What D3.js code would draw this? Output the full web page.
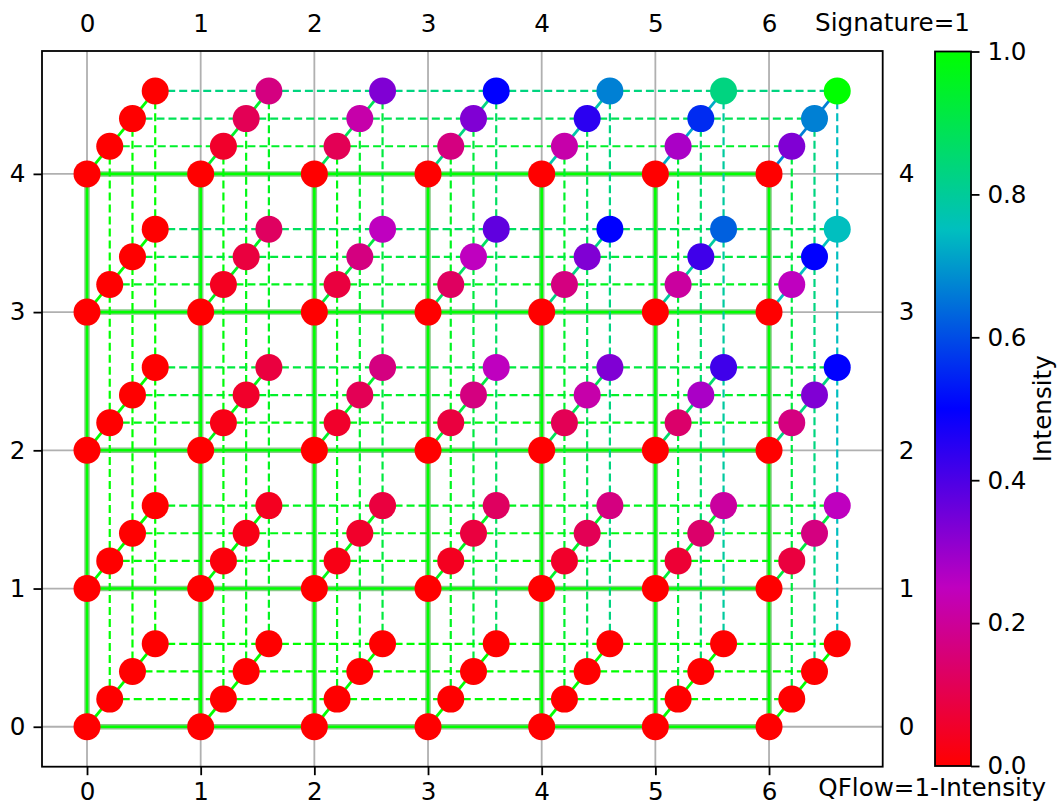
<!DOCTYPE html>
<html>
<head>
<meta charset="utf-8">
<script src="https://cdn.jsdelivr.net/npm/d3@7"></script>
<style>
  body { margin: 0; background: #fff; }
  svg { display: block; font-family: "DejaVu Sans", sans-serif; }
</style>
</head>
<body>
<svg id="chart" width="1062" height="809"></svg>
<script>
// ---- Data ----
const xTicks = [0, 1, 2, 3, 4, 5, 6];
const yTicks = [0, 1, 2, 3, 4];
const levelOffsets = [0, 0.2, 0.4, 0.6];           // diagonal offset of each level
const colorbarTicks = [0.0, 0.2, 0.4, 0.6, 0.8, 1.0];
const xLabelTop = "Signature=1";
const xLabelBottom = "QFlow=1-Intensity";
const colorbarLabel = "Intensity";

// Intensity per level: rows are y = 0..4, columns are x = 0..6
const intensityL0 = [
  [0, 0, 0, 0, 0, 0, 0],
  [0, 0, 0, 0, 0, 0, 0],
  [0, 0, 0, 0, 0, 0, 0],
  [0, 0, 0, 0, 0, 0, 0],
  [0, 0, 0, 0, 0, 0, 0]
];
const intensityL1 = [
  [0, 0,     0,     0,     0,     0,     0],
  [0, 0.014, 0.028, 0.042, 0.056, 0.069, 0.083],
  [0, 0.028, 0.056, 0.083, 0.111, 0.139, 0.167],
  [0, 0.042, 0.083, 0.125, 0.167, 0.208, 0.250],
  [0, 0.056, 0.111, 0.167, 0.222, 0.278, 0.333]
];
const intensityL2 = [
  [0, 0,     0,     0,     0,     0,     0],
  [0, 0.028, 0.056, 0.083, 0.111, 0.139, 0.167],
  [0, 0.056, 0.111, 0.167, 0.222, 0.278, 0.333],
  [0, 0.083, 0.167, 0.250, 0.333, 0.417, 0.500],
  [0, 0.111, 0.222, 0.333, 0.444, 0.556, 0.667]
];
const intensityL3 = [
  [0, 0,     0,     0,     0,     0,     0],
  [0, 0.042, 0.083, 0.125, 0.167, 0.208, 0.250],
  [0, 0.083, 0.167, 0.250, 0.333, 0.417, 0.500],
  [0, 0.125, 0.250, 0.375, 0.500, 0.625, 0.750],
  [0, 0.167, 0.333, 0.500, 0.667, 0.833, 1.000]
];
const intensityLevels = [intensityL0, intensityL1, intensityL2, intensityL3];

// Colormap stops
const cmapStops = [0, 0.25, 0.5, 0.75, 1];
const cmapColors = ["#ff0000", "#bf00bf", "#0000ff", "#00bfbf", "#00ff00"];

// ---- Layout ----
const FS = 24.6;
const TICK = 8.5;
const LW = 1.8;
const svg = d3.select("#chart");
const plot = { left: 42, right: 882.7, top: 51, bottom: 766.7 };
const x = d3.scaleLinear().domain([-0.396, 7.0]).range([plot.left, plot.right]);
const y = d3.scaleLinear().domain([-0.289, 4.889]).range([plot.bottom, plot.top]);
const cmap = d3.scaleLinear().domain(cmapStops).range(cmapColors)
  .interpolate(d3.interpolateRgb).clamp(true);
const flowColor = (a, b) => cmap(1 - Math.abs(a - b));

// clip
svg.append("defs").append("clipPath").attr("id", "clip")
  .append("rect").attr("x", plot.left).attr("y", plot.top)
  .attr("width", plot.right - plot.left).attr("height", plot.bottom - plot.top);

const g = svg.append("g").attr("clip-path", "url(#clip)");

// grid
g.append("g").selectAll("line").data(xTicks).join("line")
  .attr("x1", d => x(d)).attr("x2", d => x(d))
  .attr("y1", plot.top).attr("y2", plot.bottom)
  .attr("stroke", "#b0b0b0").attr("stroke-width", LW);
g.append("g").selectAll("line").data(yTicks).join("line")
  .attr("y1", d => y(d)).attr("y2", d => y(d))
  .attr("x1", plot.left).attr("x2", plot.right)
  .attr("stroke", "#b0b0b0").attr("stroke-width", LW);

// build segments
const thickSegs = [], dashSegs = [], diagSegs = [];
intensityLevels.forEach((lvl, k) => {
  const off = levelOffsets[k];
  yTicks.forEach((yy, j) => {
    xTicks.forEach((xx, i) => {
      const v = lvl[j][i];
      const p = { x: xx + off, y: yy + off, v };
      if (i < xTicks.length - 1) {
        const s = { x1: p.x, y1: p.y, x2: xTicks[i + 1] + off, y2: p.y, c: flowColor(v, lvl[j][i + 1]) };
        (k === 0 ? thickSegs : dashSegs).push(s);
      }
      if (j < yTicks.length - 1) {
        const s = { x1: p.x, y1: p.y, x2: p.x, y2: yTicks[j + 1] + off, c: flowColor(v, lvl[j + 1][i]) };
        (k === 0 ? thickSegs : dashSegs).push(s);
      }
      if (k < intensityLevels.length - 1) {
        const nOff = levelOffsets[k + 1];
        diagSegs.push({ x1: p.x, y1: p.y, x2: xx + nOff, y2: yy + nOff,
          c: flowColor(v, intensityLevels[k + 1][j][i]) });
      }
    });
  });
});

function drawSegs(sel, data, width, color, dash) {
  sel.selectAll("line").data(data).join("line")
    .attr("x1", d => x(d.x1)).attr("y1", d => y(d.y1))
    .attr("x2", d => x(d.x2)).attr("y2", d => y(d.y2))
    .attr("stroke", color).attr("stroke-width", width)
    .attr("stroke-dasharray", dash || null)
    .attr("stroke-linecap", "butt");
}

drawSegs(g.append("g"), thickSegs, 5.5, "#86c986");
drawSegs(g.append("g"), thickSegs, 2.6, d => d.c);
drawSegs(g.append("g"), dashSegs, 2.2, d => d.c, "8,4");
drawSegs(g.append("g"), diagSegs, 2.8, d => d.c);

// dots
const dots = [];
intensityLevels.forEach((lvl, k) => {
  yTicks.forEach((yy, j) => xTicks.forEach((xx, i) => {
    dots.push({ x: xx + levelOffsets[k], y: yy + levelOffsets[k], v: lvl[j][i] });
  }));
});
g.append("g").selectAll("circle").data(dots).join("circle")
  .attr("cx", d => x(d.x)).attr("cy", d => y(d.y)).attr("r", 13.5)
  .attr("fill", d => cmap(d.v));

// axes
function styleAxis(sel, hideTicks) {
  sel.selectAll("text").attr("font-size", FS).attr("fill", "#000")
    .attr("font-family", "DejaVu Sans, sans-serif");
  sel.selectAll(".tick line").attr("stroke", "#000").attr("stroke-width", LW)
    .attr("stroke-opacity", hideTicks ? 0 : 1);
  sel.select(".domain").remove();
}
svg.append("g").attr("transform", `translate(0,${plot.bottom})`)
  .call(d3.axisBottom(x).tickValues(xTicks).tickFormat(d3.format("d")).tickSize(TICK).tickPadding(7.5))
  .call(s => styleAxis(s, false));
svg.append("g").attr("transform", `translate(0,${plot.top})`)
  .call(d3.axisTop(x).tickValues(xTicks).tickFormat(d3.format("d")).tickSize(TICK).tickPadding(11))
  .call(s => styleAxis(s, true));
svg.append("g").attr("transform", `translate(${plot.left},0)`)
  .call(d3.axisLeft(y).tickValues(yTicks).tickFormat(d3.format("d")).tickSize(TICK).tickPadding(8))
  .call(s => styleAxis(s, false));
svg.append("g").attr("transform", `translate(${plot.right},0)`)
  .call(d3.axisRight(y).tickValues(yTicks).tickFormat(d3.format("d")).tickSize(TICK).tickPadding(7.6))
  .call(s => styleAxis(s, true));

// frame
svg.append("rect").attr("x", plot.left).attr("y", plot.top)
  .attr("width", plot.right - plot.left).attr("height", plot.bottom - plot.top)
  .attr("fill", "none").attr("stroke", "#000").attr("stroke-width", LW);

// axis labels
svg.append("text").attr("x", 970).attr("y", 31).attr("text-anchor", "end")
  .attr("font-size", FS).text(xLabelTop);
svg.append("text").attr("x", 1046).attr("y", 796).attr("text-anchor", "end")
  .attr("font-size", FS).text(xLabelBottom);

// colorbar
const cb = { left: 935, right: 971, top: 51.5, bottom: 766 };
const grad = svg.select("defs").append("linearGradient").attr("id", "cbgrad")
  .attr("x1", 0).attr("y1", 1).attr("x2", 0).attr("y2", 0);
cmapStops.forEach((s, i) => grad.append("stop").attr("offset", s).attr("stop-color", cmapColors[i]));
svg.append("rect").attr("x", cb.left).attr("y", cb.top)
  .attr("width", cb.right - cb.left).attr("height", cb.bottom - cb.top)
  .attr("fill", "url(#cbgrad)").attr("stroke", "#000").attr("stroke-width", LW);
const cy = d3.scaleLinear().domain([0, 1]).range([cb.bottom, cb.top]);
svg.append("g").attr("transform", `translate(${cb.right},0)`)
  .call(d3.axisRight(cy).tickValues(colorbarTicks).tickFormat(d3.format(".1f")).tickSize(TICK).tickPadding(7.9))
  .call(s => styleAxis(s, false));
svg.append("text").attr("transform", `translate(1051,${(cb.top + cb.bottom) / 2}) rotate(-90)`)
  .attr("text-anchor", "middle").attr("font-size", FS).text(colorbarLabel);
</script>
</body>
</html>
